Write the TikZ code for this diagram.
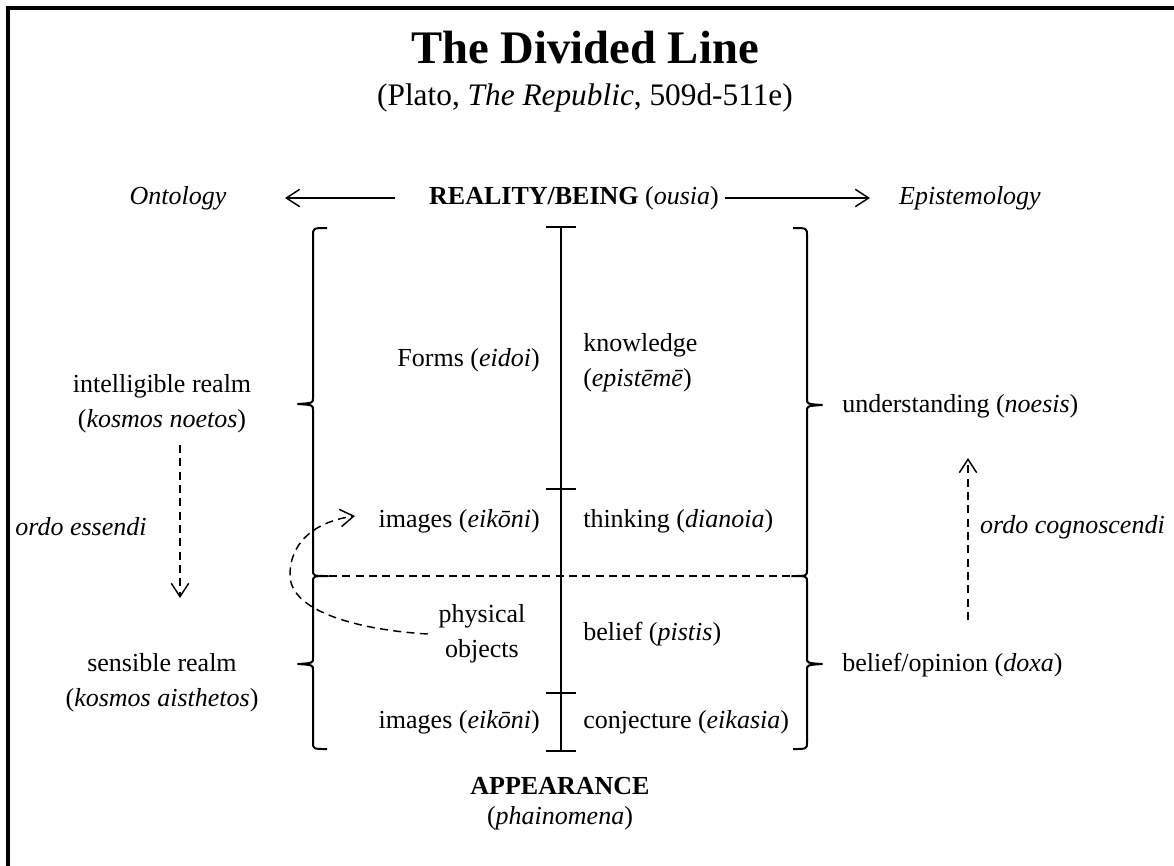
\documentclass[tikz,border=0pt]{standalone}
\usepackage{fontspec}
\setmainfont{Liberation Serif}
\usetikzlibrary{arrows.meta}
\begin{document}
\begin{tikzpicture}[x=0.75pt,y=-0.75pt,
  txt/.style={inner sep=0pt,font=\fontsize{19.5}{26}\selectfont},
  ttl/.style={inner sep=0pt,font=\fontsize{35}{40}\selectfont\bfseries},
  sub/.style={inner sep=0pt,font=\fontsize{23.5}{28}\selectfont},
  arr/.style={-{Straight Barb[length=10pt,width=13pt]},line width=1.1pt},
  darr/.style={arr,dash pattern=on 6pt off 4pt},
  br/.style={line width=1.5pt,line join=round},
  rule/.style={line width=1.5pt},
  frame/.style={line width=3pt}]
\useasboundingbox (0,0) rectangle (1174,865);
% outer frame (left and top edges)
\draw[frame] (8,866) -- (8,8) -- (1175,8);

% heading
\node[ttl] (title) at (585,48) {The Divided Line};
\node[sub] (subtitle) at (585,98) {(Plato, \textit{The Republic}, 509d-511e)};

% top row
\node[txt,font=\fontsize{19.5}{26}\selectfont\itshape] (onto) at (178,198) {Ontology};
\node[txt] (real) at (574,198) {\textbf{REALITY/BEING} (\textit{ousia})};
\node[txt,font=\fontsize{19.5}{26}\selectfont\itshape] (epis) at (970,198) {Epistemology};
\coordinate (ra) at (395,198);
\coordinate (rb) at (285,198);
\coordinate (ea) at (725,198);
\coordinate (eb) at (870,198);
\draw[arr] (ra) -- (rb);
\draw[arr] (ea) -- (eb);

% the divided line
\coordinate (ctop) at (561,227);
\coordinate (cmid) at (561,489);
\coordinate (clow) at (561,693);
\coordinate (cbot) at (561,751);
\draw[rule] (ctop) -- (cbot);
\draw[rule] ([xshift=-11pt]ctop) -- ([xshift=11pt]ctop);
\draw[rule] ([xshift=-11pt]cmid) -- ([xshift=11pt]cmid);
\draw[rule] ([xshift=-11pt]clow) -- ([xshift=11pt]clow);
\draw[rule] ([xshift=-11pt]cbot) -- ([xshift=11pt]cbot);

% left braces
\draw[br] (327,228) .. controls (313,228) .. (313,236) -- (313,398)
  .. controls (313,403) .. (298,404) .. controls (313,405) .. (313,410)
  -- (313,570) .. controls (313,576) .. (328,576)
  .. controls (313,576) .. (313,582) -- (313,658)
  .. controls (313,663) .. (298,664) .. controls (313,665) .. (313,670)
  -- (313,742) .. controls (313,749) .. (327,749);
% right braces
\draw[br] (793,228) .. controls (807,228) .. (807,236) -- (807,399)
  .. controls (807,404) .. (822,405) .. controls (807,406) .. (807,411)
  -- (807,570) .. controls (807,576) .. (792,576)
  .. controls (807,576) .. (807,582) -- (807,658)
  .. controls (807,663) .. (822,664) .. controls (807,665) .. (807,670)
  -- (807,742) .. controls (807,749) .. (793,749);
% boundary between intelligible and sensible
\coordinate (da) at (329,576);
\coordinate (db) at (791,576);
\draw[br,dash pattern=on 6pt off 4pt] (da) -- (db);

% left column
\node[txt,align=center] (intel) at (162,404) {intelligible realm\\(\textit{kosmos noetos})};
\node[txt,align=center] (sens) at (162,683) {sensible realm\\(\textit{kosmos aisthetos})};
\node[txt,font=\fontsize{19.5}{26}\selectfont\itshape] (essendi) at (81,527) {ordo essendi};
\coordinate (ua) at (180,445);
\coordinate (ub) at (180,598);
\draw[darr] (ua) -- (ub);

% objects
\node[txt,anchor=east] (forms) at (540,360) {Forms (\textit{eidoi})};
\node[txt,anchor=east] (img1) at (540,521) {images (\textit{eikōni})};
\node[txt,align=center] (phys) at (482,634) {physical\\objects};
\node[txt,anchor=east] (img2) at (540,722) {images (\textit{eikōni})};

% states of mind
\node[txt,anchor=west,align=left] (know) at (583,363) {knowledge\\(\textit{epistēmē})};
\node[txt,anchor=west] (think) at (583,521) {thinking (\textit{dianoia})};
\node[txt,anchor=west] (belief) at (583,634) {belief (\textit{pistis})};
\node[txt,anchor=west] (conj) at (583,722) {conjecture (\textit{eikasia})};

% right column
\node[txt,anchor=west] (noesis) at (842,406) {understanding (\textit{noesis})};
\node[txt,anchor=west] (doxa) at (842,665) {belief/opinion (\textit{doxa})};
\node[txt,font=\fontsize{19.5}{26}\selectfont\itshape,anchor=east] (cogn) at (1165,527) {ordo cognoscendi};
\coordinate (va) at (968,620);
\coordinate (vb) at (968,458);
\draw[darr] (va) -- (vb);

% objects cast images
\draw[darr] ([xshift=-8pt]phys.west |- 0,634) .. controls (360,630) and (290,612) .. (290,575)
  .. controls (290,540) and (318,521) .. (355,516);

% bottom
\node[txt,font=\fontsize{19.5}{26}\selectfont\bfseries] (app) at (560,786) {APPEARANCE};
\node[txt] (phain) at (560,818) {(\textit{phainomena})};
\end{tikzpicture}
\end{document}
